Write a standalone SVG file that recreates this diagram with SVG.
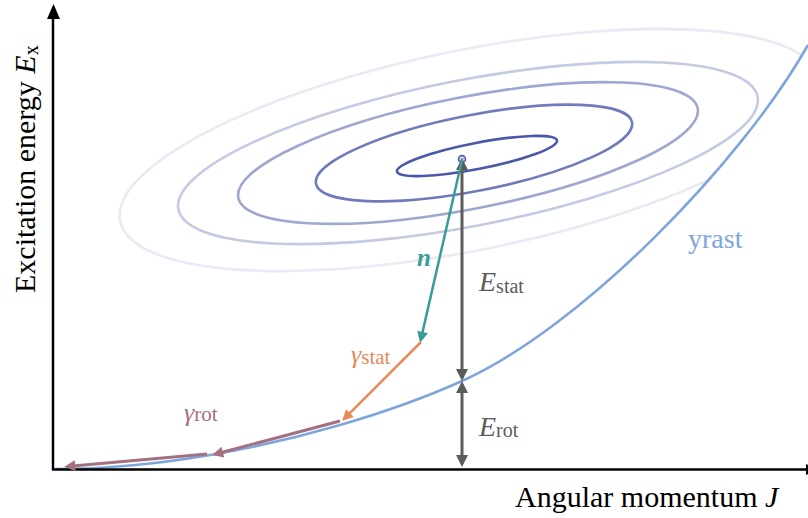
<svg xmlns="http://www.w3.org/2000/svg" width="808" height="518" viewBox="0 0 808 518">
<style>
text{font-family:"Liberation Serif","Times New Roman",serif;}
.ell{fill:none;stroke:#3f4fa3;stroke-width:2.6;}
.ax{stroke:#000;stroke-width:2.5;fill:none;}
.it{font-style:italic;}
</style>
<defs>
<marker id="hg" viewBox="0 0 12 12" refX="9" refY="6" markerWidth="12" markerHeight="12" markerUnits="userSpaceOnUse" orient="auto-start-reverse"><path d="M0,0 L12,6 L0,12 z" fill="#5c5c5c"/></marker>
<marker id="ht" viewBox="0 0 12 12" refX="9" refY="6" markerWidth="12" markerHeight="11" markerUnits="userSpaceOnUse" orient="auto"><path d="M0,0 L12,6 L0,12 z" fill="#3a9c96"/></marker>
<marker id="ho" viewBox="0 0 12 12" refX="9" refY="6" markerWidth="12" markerHeight="11" markerUnits="userSpaceOnUse" orient="auto"><path d="M0,0 L12,6 L0,12 z" fill="#e8895a"/></marker>
<marker id="hm" viewBox="0 0 12 12" refX="9" refY="6" markerWidth="12" markerHeight="11" markerUnits="userSpaceOnUse" orient="auto"><path d="M0,0 L12,6 L0,12 z" fill="#a3707f"/></marker>
<clipPath id="above"><path d="M55,469 C160,469 265,447 340,425 C380,413.4 422,399 462,381 C580,328 740,165 808,45 L808,0 L0,0 L0,469 Z"/></clipPath>
</defs>
<g id="contours" clip-path="url(#above)">
<ellipse class="ell" cx="470" cy="150" rx="357" ry="100" transform="rotate(-11.5 470 150)" stroke-opacity="0.12"/>
<ellipse class="ell" cx="468" cy="153" rx="295" ry="73" transform="rotate(-11 468 153)" stroke-opacity="0.3"/>
<ellipse class="ell" cx="468" cy="153" rx="234" ry="56" transform="rotate(-11 468 153)" stroke-opacity="0.5"/>
<ellipse class="ell" cx="474" cy="153" rx="161" ry="38" transform="rotate(-11 474 153)" stroke-opacity="0.75"/>
<ellipse class="ell" cx="477" cy="156" rx="81.5" ry="13" transform="rotate(-11 477 156)" stroke-opacity="0.95"/>
</g>
<g id="yrast">
<path d="M55,469 C160,469 265,447 340,425 C380,413.4 422,399 462,381 C580,328 740,165 808,45" fill="none" stroke="#7fa6dc" stroke-width="2.6"/>
<text x="688" y="248" font-size="28" fill="#7fa6dc">yrast</text>
</g>
<g id="axes">
<line class="ax" x1="53" y1="470" x2="53" y2="16"/>
<polygon points="53.5,4 47,19 60,19" fill="#000"/>
<line class="ax" x1="52" y1="469.5" x2="808" y2="469.5"/>
<polygon points="806,464 818,469.5 806,475" fill="#000"/>
<text transform="translate(35,293) rotate(-90)" font-size="30">Excitation energy <tspan class="it">E</tspan><tspan font-size="20" dy="3">x</tspan></text>
<text x="515" y="507" font-size="30">Angular momentum <tspan class="it">J</tspan></text>
</g>
<g id="center">
<circle cx="462" cy="159" r="3.5" fill="#c8cbe8" stroke="#4a5aa8" stroke-width="1.5"/>
</g>
<g id="connectors">
<line x1="462" y1="378" x2="462" y2="161" stroke="#5c5c5c" stroke-width="3" marker-start="url(#hg)" marker-end="url(#hg)"/>
<line x1="462" y1="384" x2="462" y2="464" stroke="#5c5c5c" stroke-width="3" marker-start="url(#hg)" marker-end="url(#hg)"/>
<line x1="462" y1="160" x2="420.7" y2="340.1" stroke="#3a9c96" stroke-width="2.5" marker-end="url(#ht)"/>
<line x1="421" y1="342" x2="344.1" y2="418.9" stroke="#e8895a" stroke-width="2.5" marker-end="url(#ho)"/>
<line x1="340" y1="421" x2="214.9" y2="454.2" stroke="#a3707f" stroke-width="3" marker-end="url(#hm)"/>
<line x1="207" y1="454" x2="67" y2="466.5" stroke="#a3707f" stroke-width="3" marker-end="url(#hm)"/>
</g>
<g id="labels">
<text x="417" y="266" font-size="25" font-style="italic" font-weight="bold" fill="#3a9c96">n</text>
<text x="479" y="291" font-size="28" fill="#5c5c5c"><tspan class="it">E</tspan><tspan font-size="20" dy="2">stat</tspan></text>
<text x="479" y="436" font-size="28" fill="#5c5c5c"><tspan class="it">E</tspan><tspan font-size="20" dy="1">rot</tspan></text>
<text x="351" y="363" font-size="26" fill="#e8895a"><tspan class="it">γ</tspan><tspan font-size="21" dy="1">stat</tspan></text>
<text x="184" y="421" font-size="26" fill="#a3707f"><tspan class="it">γ</tspan><tspan font-size="21" dy="0">rot</tspan></text>
</g>
</svg>
